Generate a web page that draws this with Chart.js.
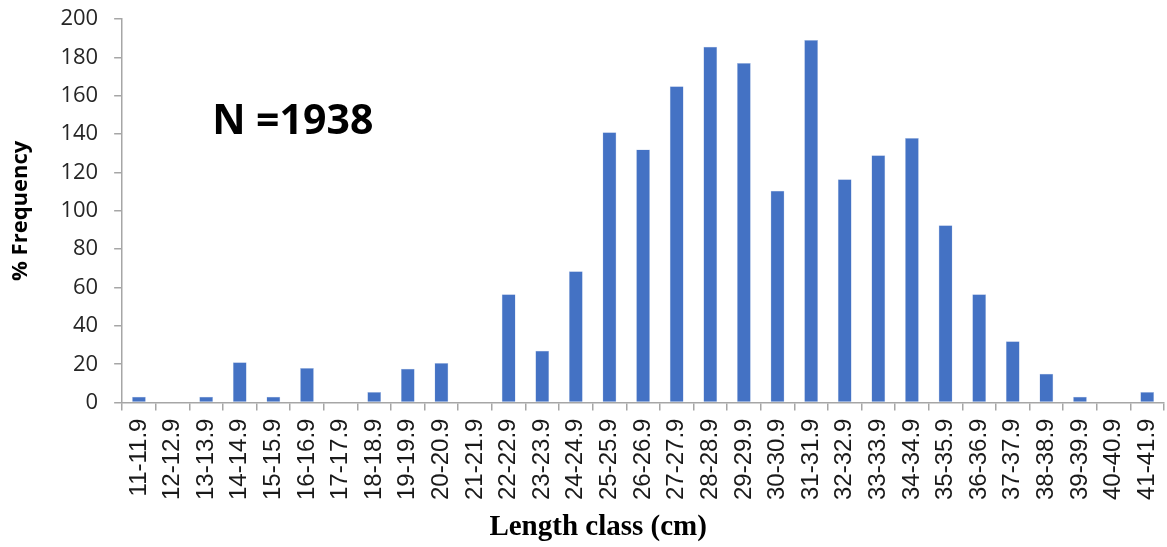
<!DOCTYPE html>
<html>
<head>
<meta charset="utf-8">
<script src="https://cdn.jsdelivr.net/npm/chart.js@4.4.0/dist/chart.umd.min.js"></script>
<style>
  html, body { margin: 0; padding: 0; background: #fff; }
  #wrap { width: 1167px; height: 547px; }
</style>
</head>
<body>
<div id="wrap"><canvas id="lengthChart"></canvas></div>
<script>
const lengthClasses = ['11-11.9', '12-12.9', '13-13.9', '14-14.9', '15-15.9', '16-16.9', '17-17.9', '18-18.9',
    '19-19.9', '20-20.9', '21-21.9', '22-22.9', '23-23.9', '24-24.9', '25-25.9', '26-26.9', '27-27.9',
    '28-28.9', '29-29.9', '30-30.9', '31-31.9', '32-32.9', '33-33.9', '34-34.9', '35-35.9', '36-36.9',
    '37-37.9', '38-38.9', '39-39.9', '40-40.9', '41-41.9'];
const frequency = [3, 0, 3, 21, 3, 18, 0, 5.5, 17.6, 20.7, 0, 56.5, 27, 68.5, 141, 132, 165,
    185.5, 177, 110.5, 189, 116.5, 129, 138, 92.5, 56.5, 32, 15, 3, 0, 5.5];
const yTicks = [0, 20, 40, 60, 80, 100, 120, 140, 160, 180, 200];
const sampleLabel = 'N =1938';
const xTitle = 'Length class (cm)';

const axisGray = '#a6a6a6';

// "N =1938" label inside the plot, and the x title (sits a bit left of centre, as in Excel)
const textPlugin = {
    id: 'extraText',
    afterDraw(chart) {
        const ctx = chart.ctx;
        const area = chart.chartArea;
        ctx.save();
        ctx.fillStyle = '#000';
        ctx.textBaseline = 'middle';
        ctx.font = 'bold 41px "Open Sans"';
        ctx.fillText(sampleLabel, area.left + 90, chart.scales.y.getPixelForValue(146));

        ctx.textAlign = 'center';
        ctx.font = 'bold 29px "Liberation Serif"';
        ctx.fillText(xTitle, area.left + 476, chart.height - 19);
        ctx.restore();
    }
};

const ctx = document.getElementById('lengthChart').getContext('2d');
new Chart(ctx, {
    type: 'bar',
    data: {
        labels: lengthClasses,
        datasets: [{
            label: '% Frequency',
            data: frequency,
            backgroundColor: '#4472c4',
            borderColor: '#b4c7e7',
            borderWidth: 0.5,
            categoryPercentage: 1,
            barPercentage: 0.41
        }]
    },
    options: {
        responsive: true,
        maintainAspectRatio: false,
        animation: false,
        layout: { padding: { top: 19, right: 3, left: 8, bottom: 39 } },
        plugins: {
            legend: { display: false },
            tooltip: { enabled: false }
        },
        scales: {
            x: {
                offset: true,
                afterFit(scale) {
                    scale.paddingRight = 0;
                },
                grid: { drawOnChartArea: false, drawTicks: true, tickLength: 8, color: axisGray, lineWidth: 1.5, offset: true },
                border: { color: axisGray, width: 1.5 },
                ticks: {
                    autoSkip: false,
                    minRotation: 90,
                    maxRotation: 90,
                    padding: 8,
                    color: '#1a1a1a',
                    font: { family: 'Liberation Sans', size: 24 }
                }
            },
            y: {
                min: 0,
                max: 200,
                afterFit(scale) {
                    scale.paddingTop = 0;
                },
                afterBuildTicks(scale) {
                    scale.ticks = yTicks.map(v => ({ value: v }));
                },
                grid: { drawOnChartArea: false, drawTicks: true, tickLength: 8, color: axisGray, lineWidth: 1.5 },
                border: { color: axisGray, width: 1.5 },
                ticks: {
                    padding: 16,
                    color: '#262626',
                    font: { family: 'Open Sans', size: 22 }
                },
                title: {
                    display: true,
                    text: '% Frequency',
                    color: '#000',
                    padding: { top: 0, bottom: 10 },
                    font: { family: 'Open Sans', weight: 'bold', size: 22 }
                }
            }
        }
    },
    plugins: [textPlugin]
});
</script>
</body>
</html>
